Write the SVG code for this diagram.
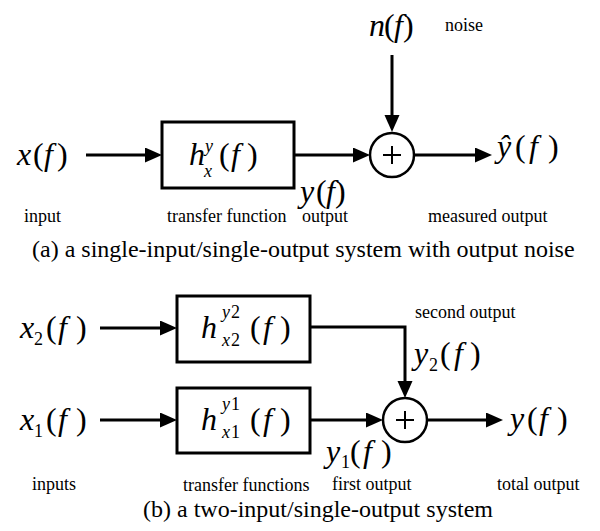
<svg xmlns="http://www.w3.org/2000/svg" width="600" height="531" viewBox="0 0 600 531">
  <style>
    .bg { fill: #ffffff; }
    .box { fill: #ffffff; stroke: #000000; stroke-width: 3; }
    .sum { fill: #ffffff; stroke: #000000; stroke-width: 2.5; }
    .plus { stroke: #000000; stroke-width: 2; fill: none; }
    .wire { stroke: #000000; stroke-width: 3; fill: none; }
    .math { font-family: "Liberation Serif", "Times New Roman", serif; font-size: 32px; fill: #000000; }
    .it { font-style: italic; }
    .idx { font-family: "Liberation Serif", "Times New Roman", serif; font-size: 18px; fill: #000000; }
    .lbl { font-family: "Liberation Serif", "Times New Roman", serif; font-size: 18px; fill: #000000; }
    .cap { font-family: "Liberation Serif", "Times New Roman", serif; font-size: 24px; fill: #000000; }
  </style>
  <defs>
    <marker id="arrow" markerUnits="userSpaceOnUse" markerWidth="18" markerHeight="16" refX="7" refY="7.5" orient="auto">
      <path d="M0,0 L17,7.5 L0,15 Z" fill="#000000"/>
    </marker>
  </defs>

  <rect class="bg" x="0" y="0" width="600" height="531"/>

  <!-- (a) single-input / single-output with output noise -->
  <g id="connectors-a">
    <line class="wire" x1="86" y1="155" x2="152" y2="155" marker-end="url(#arrow)"/>
    <line class="wire" x1="294" y1="155" x2="360" y2="155" marker-end="url(#arrow)"/>
    <line class="wire" x1="392" y1="55" x2="392" y2="122" marker-end="url(#arrow)"/>
    <line class="wire" x1="414" y1="155" x2="482" y2="155" marker-end="url(#arrow)"/>
  </g>

  <g id="input-x">
    <text class="math" y="165"><tspan class="it" x="17">x</tspan><tspan x="33">(</tspan><tspan class="it" x="44">f</tspan><tspan x="57">)</tspan></text>
    <text class="lbl" x="24" y="222">input</text>
  </g>

  <g id="transfer-h">
    <rect class="box" x="162" y="122" width="132" height="66"/>
    <text class="math" y="165"><tspan class="it" x="189">h</tspan><tspan x="219">(</tspan><tspan class="it" x="231">f</tspan><tspan x="247">)</tspan></text>
    <text class="idx it" x="205" y="152">y</text>
    <text class="idx it" x="204" y="177">x</text>
    <text class="lbl" x="167" y="222">transfer function</text>
  </g>

  <g id="noise-n">
    <text class="math" y="36"><tspan class="it" x="369">n</tspan><tspan x="384">(</tspan><tspan class="it" x="394">f</tspan><tspan x="403">)</tspan></text>
    <text class="lbl" x="445" y="31">noise</text>
  </g>

  <g id="sum-a">
    <circle class="sum" cx="392" cy="155" r="22"/>
    <path class="plus" d="M383,155 H401 M392,146 V164"/>
  </g>

  <g id="output-y">
    <text class="math" y="202"><tspan class="it" x="300">y</tspan><tspan x="316">(</tspan><tspan class="it" x="326">f</tspan><tspan x="335">)</tspan></text>
    <text class="lbl" x="302" y="222">output</text>
  </g>

  <g id="measured-yhat">
    <text class="math" y="157"><tspan class="it" x="497">ŷ</tspan><tspan x="515">(</tspan><tspan class="it" x="529">f</tspan><tspan x="548">)</tspan></text>
    <text class="lbl" x="428" y="222">measured output</text>
  </g>

  <text class="cap" x="32" y="257">(a) a single-input/single-output system with output noise</text>

  <!-- (b) two-input / single-output -->
  <g id="connectors-b">
    <line class="wire" x1="100" y1="328" x2="167" y2="328" marker-end="url(#arrow)"/>
    <line class="wire" x1="100" y1="420" x2="167" y2="420" marker-end="url(#arrow)"/>
    <path class="wire" d="M310,327 H405 V388" marker-end="url(#arrow)"/>
    <line class="wire" x1="310" y1="420" x2="373" y2="420" marker-end="url(#arrow)"/>
    <line class="wire" x1="427" y1="420" x2="493" y2="420" marker-end="url(#arrow)"/>
  </g>

  <g id="input-x2">
    <text class="math" y="338"><tspan class="it" x="20">x</tspan><tspan x="46">(</tspan><tspan class="it" x="58">f</tspan><tspan x="76">)</tspan></text>
    <text class="idx" x="34" y="345">2</text>
  </g>

  <g id="input-x1">
    <text class="math" y="430"><tspan class="it" x="20">x</tspan><tspan x="46">(</tspan><tspan class="it" x="58">f</tspan><tspan x="76">)</tspan></text>
    <text class="idx" x="34" y="437">1</text>
    <text class="lbl" x="32" y="490">inputs</text>
  </g>

  <g id="transfer-h2">
    <rect class="box" x="177" y="296" width="133" height="66"/>
    <text class="math" y="338"><tspan class="it" x="201">h</tspan><tspan x="250">(</tspan><tspan class="it" x="263">f</tspan><tspan x="280">)</tspan></text>
    <text class="idx" y="318"><tspan class="it" x="222">y</tspan><tspan x="231">2</tspan></text>
    <text class="idx" y="346"><tspan class="it" x="222">x</tspan><tspan x="231">2</tspan></text>
  </g>

  <g id="transfer-h1">
    <rect class="box" x="177" y="388" width="133" height="65"/>
    <text class="math" y="430"><tspan class="it" x="201">h</tspan><tspan x="250">(</tspan><tspan class="it" x="263">f</tspan><tspan x="280">)</tspan></text>
    <text class="idx" y="410"><tspan class="it" x="222">y</tspan><tspan x="231">1</tspan></text>
    <text class="idx" y="438"><tspan class="it" x="222">x</tspan><tspan x="231">1</tspan></text>
    <text class="lbl" x="183" y="491">transfer functions</text>
  </g>

  <g id="output-y2">
    <text class="math" y="364"><tspan class="it" x="414">y</tspan><tspan x="440">(</tspan><tspan class="it" x="454">f</tspan><tspan x="470">)</tspan></text>
    <text class="idx" x="429" y="371">2</text>
    <text class="lbl" x="415" y="318">second output</text>
  </g>

  <g id="sum-b">
    <circle class="sum" cx="405" cy="420" r="22"/>
    <path class="plus" d="M396,420 H414 M405,411 V429"/>
  </g>

  <g id="output-y1">
    <text class="math" y="462"><tspan class="it" x="326">y</tspan><tspan x="350">(</tspan><tspan class="it" x="363">f</tspan><tspan x="381">)</tspan></text>
    <text class="idx" x="341" y="468">1</text>
    <text class="lbl" x="332" y="490">first output</text>
  </g>

  <g id="total-y">
    <text class="math" y="429"><tspan class="it" x="510">y</tspan><tspan x="527">(</tspan><tspan class="it" x="539">f</tspan><tspan x="557">)</tspan></text>
    <text class="lbl" x="497" y="490">total output</text>
  </g>

  <text class="cap" x="143" y="517">(b) a two-input/single-output system</text>
</svg>
